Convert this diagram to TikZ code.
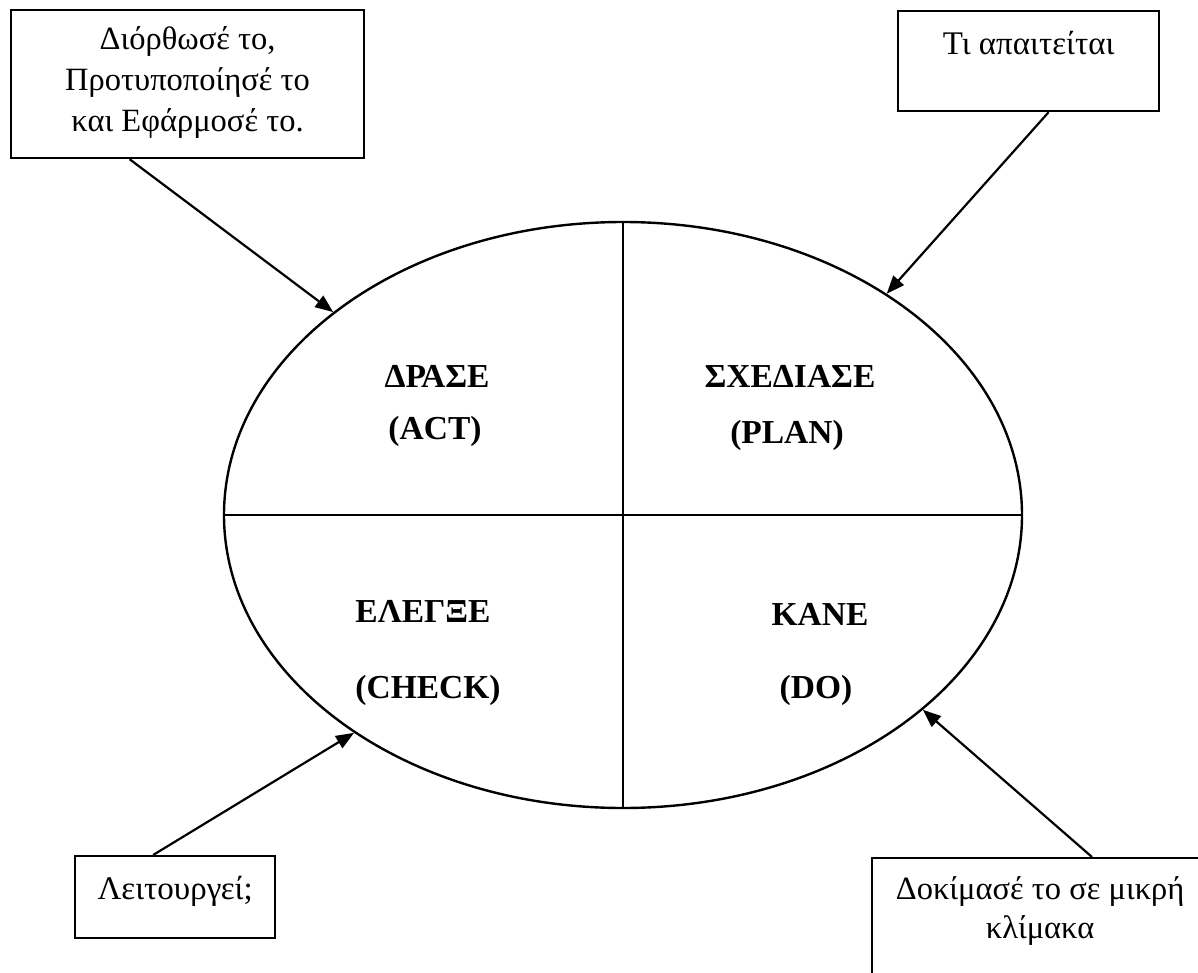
\documentclass[tikz,border=0pt]{standalone}
\usepackage{fontspec}
\setmainfont{Liberation Serif}
\usetikzlibrary{arrows.meta,shapes.geometric}
\begin{document}
\begin{tikzpicture}[x=1pt,y=-1pt,
  box/.style={draw,line width=2.2pt,inner sep=0pt,font=\fontsize{33}{41}\selectfont},
  lbl/.style={anchor=base,inner sep=0pt,font=\bfseries\fontsize{33.5}{38}\selectfont},
  arr/.style={line width=2.2pt,-{Triangle[length=18pt,width=14pt]}},
  divider/.style={line width=2.2pt},
  cyc/.style={draw,ellipse,line width=2.4pt,inner sep=0pt,minimum width=798pt,minimum height=586pt}]
\useasboundingbox (0,0) rectangle (1198,973);
\clip (0,0) rectangle (1198,973);
% cycle
\node[cyc] (ell) at (623,515) {};
\draw[divider] (ell.north) -- (ell.south);
\draw[divider] (ell.west) -- (ell.east);
% quadrant labels
\node[lbl] (a1) at (437,387) {ΔΡΑΣΕ};
\node[lbl] (a2) at (435,439) {(ACT)};
\node[lbl] (p1) at (790,387) {ΣΧΕΔΙΑΣΕ};
\node[lbl] (p2) at (787,443) {(PLAN)};
\node[lbl] (c1) at (423,622) {ΕΛΕΓΞΕ};
\node[lbl] (c2) at (428,698) {(CHECK)};
\node[lbl] (d1) at (820,625) {ΚΑΝΕ};
\node[lbl] (d2) at (816,698) {(DO)};
% boxes
\node[box,anchor=north west,minimum width=353pt,text height=39pt,text depth=109pt,font=\fontsize{32.5}{41}\selectfont] (tl) at (10,9)
  {\begin{tabular}[t]{@{}c@{}}Διόρθωσέ το,\\Προτυποποίησέ το\\και Εφάρμοσέ το.\end{tabular}};
\node[box,anchor=north west,minimum width=261pt,text height=43pt,text depth=57pt] (tr) at (897,10) {Τι απαιτείται};
\node[box,anchor=north west,minimum width=200pt,text height=43pt,text depth=39pt] (bl) at (74,855) {Λειτουργεί;};
\node[box,anchor=north west,minimum width=336pt,text height=41pt,text depth=200pt,font=\fontsize{32.5}{39}\selectfont] (br) at (871,857)
  {\begin{tabular}[t]{@{}c@{}}Δοκίμασέ το σε μικρή\\κλίμακα\end{tabular}};
% arrows
\draw[arr] ([xshift=-58pt]tl.south) -- (ell.145);
\draw[arr] ([xshift=20pt]tr.south) -- (ell.40);
\draw[arr] ([xshift=-22pt]bl.north) -- (ell.219);
\draw[arr] ([xshift=221pt]br.north west) -- (ell.-33);
\end{tikzpicture}
\end{document}
